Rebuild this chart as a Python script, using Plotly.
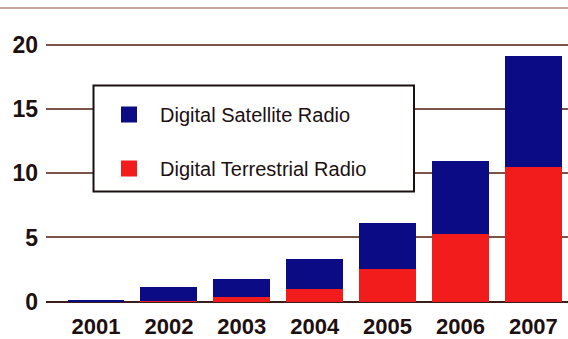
import plotly.graph_objects as go

years = ["2001", "2002", "2003", "2004", "2005", "2006", "2007"]
terrestrial = [0.03, 0.05, 0.34, 1.0, 2.52, 5.27, 10.5]
satellite = [0.1, 1.12, 1.4, 2.35, 3.63, 5.71, 8.66]
y_ticks = [0, 5, 10, 15, 20]
series_names = ["Digital Satellite Radio", "Digital Terrestrial Radio"]
RED = "#f21c1c"
BLUE = "#0b0b86"

fig = go.Figure()
fig.add_bar(x=years, y=terrestrial, marker=dict(color=RED, line=dict(width=0)),
            showlegend=False, name=series_names[1])
fig.add_bar(x=years, y=satellite, marker=dict(color=BLUE, line=dict(width=0)),
            showlegend=False, name=series_names[0])
# legend entries
fig.add_scatter(x=[None], y=[None], mode="markers", name=series_names[0],
                marker=dict(symbol="square", size=17, color=BLUE), legendgroup="a")
fig.add_scatter(x=[None], y=[None], mode="markers", name=series_names[1],
                marker=dict(symbol="square", size=17, color=RED), legendgroup="b")

L, R, T, B = 46, 0, 40, 33
W, H = 568, 339
pw, ph = W - L - R, H - T - B

def px2x(px):
    return (px - L) / pw

def px2y(py):
    return (H - B - py) / ph

fig.update_layout(
    width=W, height=H,
    margin=dict(l=L, r=R, t=T, b=B),
    paper_bgcolor="white", plot_bgcolor="white",
    barmode="stack", bargap=0.22,
    font=dict(family="Liberation Sans, Arial, sans-serif", color="#1e1010"),
    xaxis=dict(range=[-0.686, 6.475], showgrid=False, showline=False, ticks="",
               automargin=False,
               tickfont=dict(size=22, family="Liberation Sans", weight="bold"),
               ticklabelstandoff=5),
    yaxis=dict(range=[-0.335, 20.366], tickvals=y_ticks, showgrid=True,
               automargin=False,
               gridcolor="#7a5448", gridwidth=1.5, zeroline=True,
               zerolinecolor="#3a1e1a", zerolinewidth=2, showline=False, ticks="",
               tickfont=dict(size=23, family="Liberation Sans", weight="bold"),
               ticklabelstandoff=7),
    legend=dict(x=px2x(98), y=px2y(95), xanchor="left", yanchor="top",
                bgcolor="rgba(0,0,0,0)", borderwidth=0, tracegroupgap=25,
                font=dict(size=20, color="#1e1010"), itemwidth=52),
    shapes=[
        dict(type="rect", xref="paper", yref="paper", x0=px2x(93.5), x1=px2x(414),
             y0=px2y(191.5), y1=px2y(85.5), fillcolor="white",
             line=dict(color="#1a1010", width=2), layer="above"),
        dict(type="line", xref="paper", yref="paper", x0=px2x(0), x1=px2x(568),
             y0=px2y(8), y1=px2y(8), line=dict(color="#c9a79f", width=2)),
    ],
)
fig.write_html("out.html")
